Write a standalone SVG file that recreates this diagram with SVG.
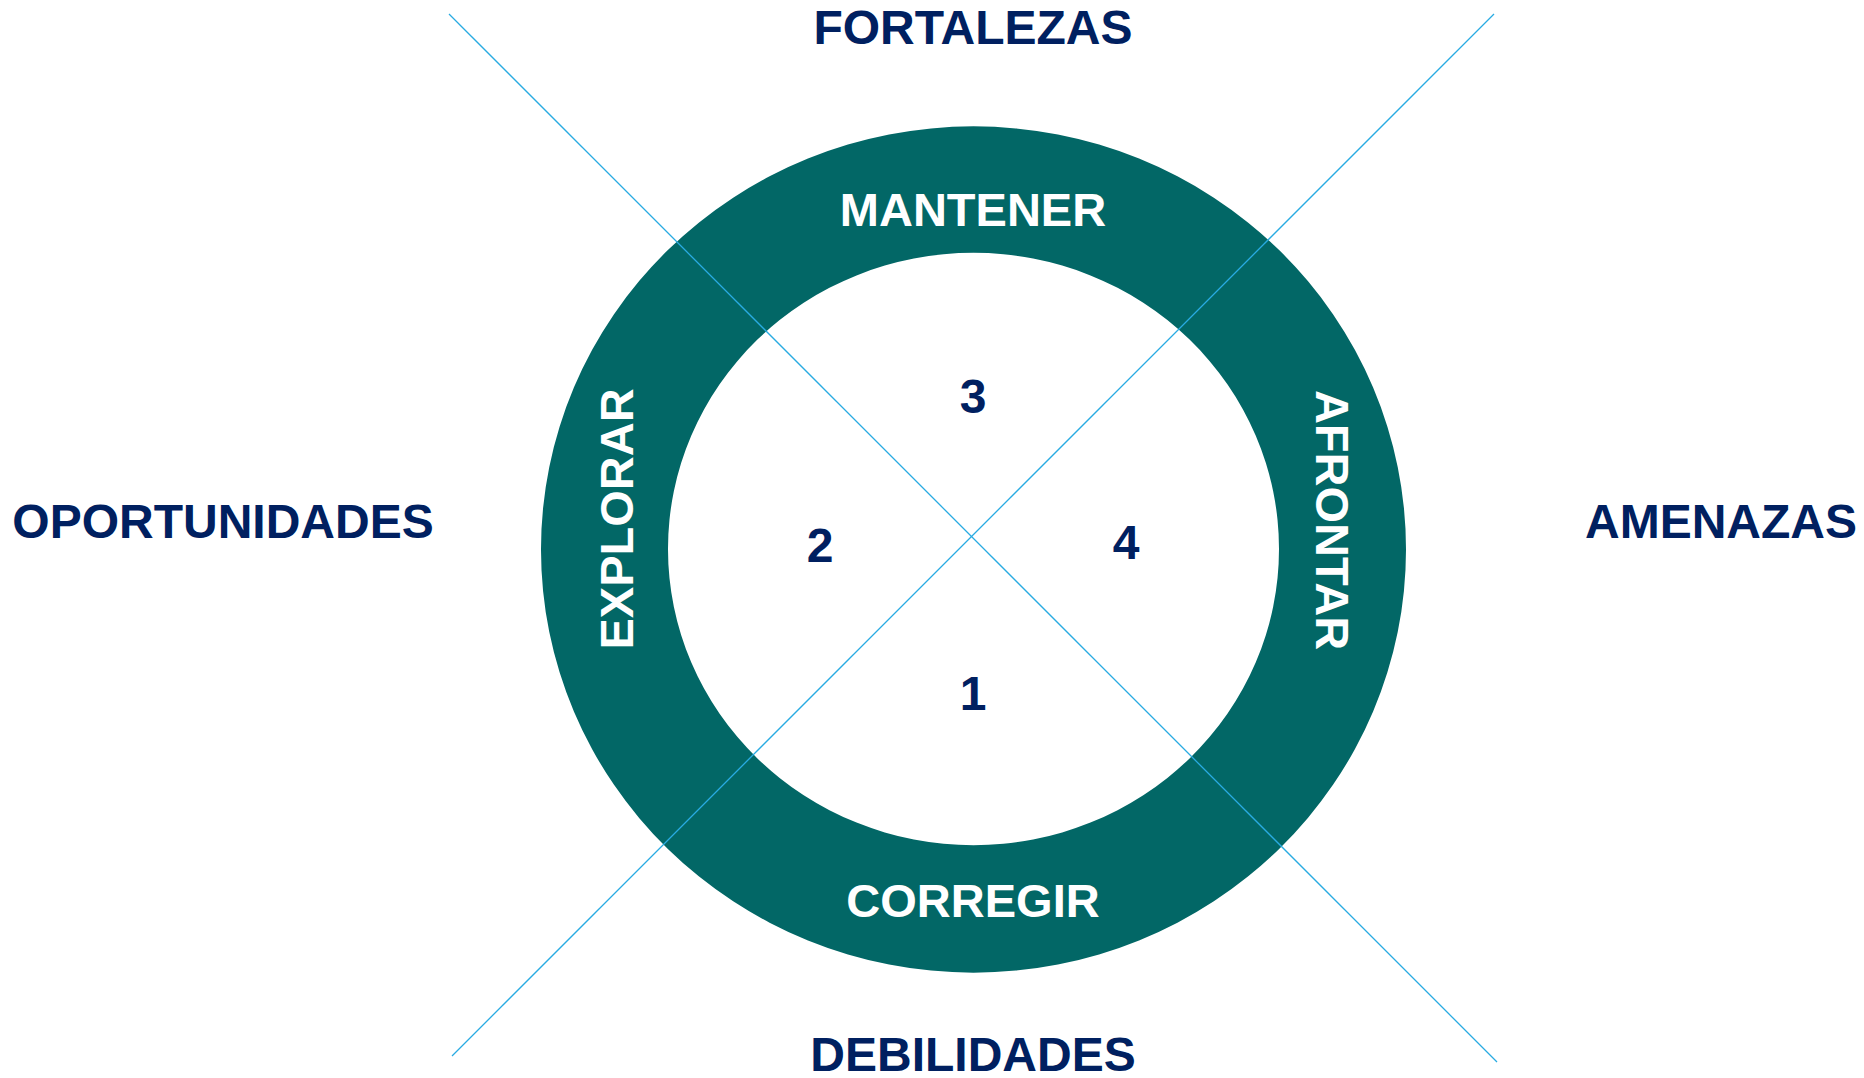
<svg xmlns="http://www.w3.org/2000/svg" width="1864" height="1078" viewBox="0 0 1864 1078">
<style>
.lbl{font-family:"Liberation Sans",Arial,sans-serif;font-weight:bold;font-size:48px;fill:#002060;text-anchor:middle}
.ring-t{font-family:"Liberation Sans",Arial,sans-serif;font-weight:bold;font-size:47px;fill:#ffffff;text-anchor:middle}
.num{font-family:"Liberation Sans",Arial,sans-serif;font-weight:bold;font-size:48px;fill:#002060;text-anchor:middle}
.ax{stroke:#29ABE2;stroke-width:1.3;fill:none}
</style>
<rect width="1864" height="1078" fill="#ffffff"/>
<g id="ring">
<path fill="#026766" fill-rule="evenodd" d="M541,549.5 A432.5,423 0 1,0 1406,549.5 A432.5,423 0 1,0 541,549.5 Z M668,549 A305.5,296 0 1,0 1279,549 A305.5,296 0 1,0 668,549 Z"/>
</g>
<g id="connectors">
<line class="ax" x1="449" y1="14" x2="1497" y2="1062"/>
<line class="ax" x1="1494" y1="14" x2="452" y2="1056"/>
</g>
<g id="fortalezas"><text class="lbl" x="973" y="44">FORTALEZAS</text></g>
<g id="debilidades"><text class="lbl" x="973" y="1071">DEBILIDADES</text></g>
<g id="oportunidades"><text class="lbl" x="223" y="538">OPORTUNIDADES</text></g>
<g id="amenazas"><text class="lbl" x="1721" y="538">AMENAZAS</text></g>
<g id="mantener"><text class="ring-t" x="973" y="226">MANTENER</text></g>
<g id="corregir"><text class="ring-t" x="973" y="917">CORREGIR</text></g>
<g id="explorar"><text class="ring-t" transform="translate(633,519) rotate(-90)" x="0" y="0">EXPLORAR</text></g>
<g id="afrontar"><text class="ring-t" transform="translate(1316,520) rotate(90)" x="0" y="0">AFRONTAR</text></g>
<g id="n3"><text class="num" x="973" y="413">3</text></g>
<g id="n2"><text class="num" x="820" y="562">2</text></g>
<g id="n4"><text class="num" x="1126" y="559">4</text></g>
<g id="n1"><text class="num" x="973" y="710">1</text></g>
</svg>
